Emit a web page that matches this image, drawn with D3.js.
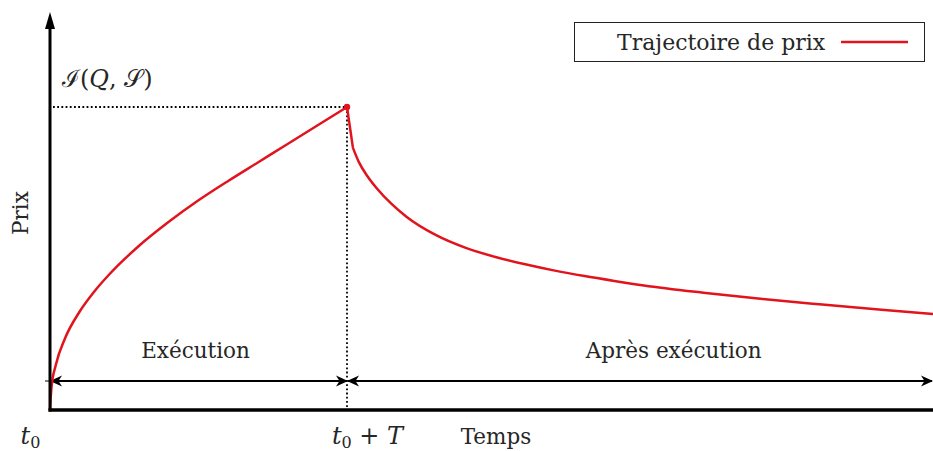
<!DOCTYPE html>
<html>
<head>
<meta charset="utf-8">
<script src="https://cdn.jsdelivr.net/npm/d3@7/dist/d3.min.js"></script>
<style>
  html, body { margin: 0; padding: 0; background: #fff; }
  svg { display: block; }
  text { font-family: "DejaVu Serif", "Liberation Serif", serif; fill: #262626; }
</style>
</head>
<body>
<svg id="chart" width="933" height="451"></svg>
<script>
// ---- data (time in units of T, price in units of peak impact) ----
const execTime  = [0, 0.005, 0.02, 0.05, 0.10, 0.15, 0.20, 0.30, 0.40, 0.50, 0.60, 0.70, 0.80, 0.90, 1.00];
const execPrice = [0, 0.075, 0.150, 0.235, 0.325, 0.392, 0.448, 0.542, 0.621, 0.692, 0.756, 0.817, 0.878, 0.939, 1.000];
const jumpTime  = [1.000, 1.020];
const jumpPrice = [1.000, 0.865];
const postTime  = [1.02, 1.04, 1.07, 1.10, 1.15, 1.20, 1.30, 1.40, 1.50, 1.60, 1.70, 1.80, 1.90, 2.00, 2.20, 2.40, 2.60, 2.80, 2.973];
const postPrice = [0.865, 0.818, 0.770, 0.732, 0.680, 0.638, 0.577, 0.535, 0.505, 0.481, 0.460, 0.442, 0.426, 0.411, 0.387, 0.366, 0.348, 0.331, 0.317];
const peak = { t: 1, p: 1 };
const tickValues = [0, 1];
const tickLabels = [["t", "0", ""], ["t", "0", " + T"]];
const phaseLabels = ["Exécution", "Après exécution"];
const phaseSpans = [[0, 1], [1, 2.973]];
const phaseLabelT = [0.49, 2.10];
const legendLabel = "Trajectoire de prix";
const impactLabel = "ℐ(𝑄, 𝒮)";
const xTitle = "Temps";
const yTitle = "Prix";

// ---- layout ----
const red = "#e1141e";
const svg = d3.select("#chart");
const x = d3.scaleLinear().domain([0, 3]).range([50, 941]);
const y = d3.scaleLinear().domain([0, 1]).range([410, 107]);

const defs = svg.append("defs");
defs.append("marker")
  .attr("id", "stealth").attr("viewBox", "-13 -6 15 12")
  .attr("refX", 0).attr("refY", 0)
  .attr("markerWidth", 15).attr("markerHeight", 12)
  .attr("markerUnits", "userSpaceOnUse")
  .attr("orient", "auto-start-reverse")
  .append("path").attr("d", "M1,0 L-11,-5.5 L-7.5,0 L-11,5.5 Z").attr("fill", "#000");

// dotted guides
svg.append("line")
  .attr("x1", x(0) + 3).attr("x2", x(peak.t)).attr("y1", y(peak.p)).attr("y2", y(peak.p))
  .attr("stroke", "#000").attr("stroke-width", 1.8).attr("stroke-dasharray", "1.8,2.4");
svg.append("line")
  .attr("x1", x(peak.t)).attr("x2", x(peak.t)).attr("y1", y(peak.p)).attr("y2", y(0))
  .attr("stroke", "#000").attr("stroke-width", 1.8).attr("stroke-dasharray", "1.8,2.4");

// phase arrows
const arrowY = 381;
phaseSpans.forEach(s => {
  svg.append("line")
    .attr("x1", x(s[0]) + 1).attr("x2", Math.min(x(s[1]), 932)).attr("y1", arrowY).attr("y2", arrowY)
    .attr("stroke", "#000").attr("stroke-width", 2.2)
    .attr("marker-start", "url(#stealth)").attr("marker-end", "url(#stealth)");
});
svg.append("line").attr("x1", 45).attr("x2", 52).attr("y1", arrowY).attr("y2", arrowY)
  .attr("stroke", "#000").attr("stroke-width", 1);

// phase labels
phaseLabels.forEach((lab, i) => {
  svg.append("text")
    .attr("x", x(phaseLabelT[i])).attr("y", 358).attr("text-anchor", "middle")
    .attr("font-size", 21.5).text(lab);
});

// price path
const lineM = d3.line().x(d => x(d[0])).y(d => y(d[1])).curve(d3.curveMonotoneX);
const lineL = d3.line().x(d => x(d[0])).y(d => y(d[1]));
const zip = (a, b) => a.map((v, i) => [v, b[i]]);
svg.append("path").datum(zip(execTime, execPrice))
  .attr("d", lineM).attr("fill", "none")
  .attr("stroke", red).attr("stroke-width", 2.5).attr("stroke-linejoin", "round");
svg.append("path").datum(zip(jumpTime, jumpPrice))
  .attr("d", lineL).attr("fill", "none")
  .attr("stroke", red).attr("stroke-width", 2.5).attr("stroke-linejoin", "round");
svg.append("path").datum(zip(postTime, postPrice))
  .attr("d", lineM).attr("fill", "none")
  .attr("stroke", red).attr("stroke-width", 2.5).attr("stroke-linejoin", "round");
svg.append("circle").attr("cx", x(peak.t)).attr("cy", y(peak.p)).attr("r", 3.2).attr("fill", red);

// axes
svg.append("line").attr("x1", 50).attr("x2", 50).attr("y1", 411.5).attr("y2", 24)
  .attr("stroke", "#000").attr("stroke-width", 3);
svg.append("path").attr("d", "M50,12 L45,29 L55,29 Z").attr("fill", "#000");
svg.append("line").attr("x1", 48.5).attr("x2", 933).attr("y1", 410).attr("y2", 410)
  .attr("stroke", "#000").attr("stroke-width", 3.5);

// tick labels via axis
const xAxis = d3.axisBottom(x).tickValues(tickValues).tickSize(0).tickFormat("");
const gx = svg.append("g").attr("transform", "translate(0,410)").call(xAxis);
gx.select(".domain").remove();
const tickOffsets = [-20, 20];
gx.selectAll(".tick").each(function (d, i) {
  const t = d3.select(this).append("text")
    .attr("x", tickOffsets[i]).attr("y", 34).attr("text-anchor", "middle")
    .attr("font-size", 24).attr("fill", "#262626");
  t.append("tspan").attr("font-style", "italic").text(tickLabels[i][0]);
  t.append("tspan").attr("font-size", 16).attr("dy", 4).text(tickLabels[i][1]);
  if (tickLabels[i][2]) {
    t.append("tspan").attr("dy", -4).text(" + ");
    t.append("tspan").attr("font-style", "italic").text("T");
  }
});

// axis titles
svg.append("text").attr("x", 496).attr("y", 444).attr("text-anchor", "middle")
  .attr("font-size", 21.5).text(xTitle);
svg.append("text").attr("transform", "translate(28,213) rotate(-90)")
  .attr("text-anchor", "middle").attr("font-size", 21.5).text(yTitle);

// impact label
svg.append("text").attr("x", 62).attr("y", 87).attr("font-size", 24).text(impactLabel);

// legend
svg.append("rect").attr("x", 574.5).attr("y", 22.5).attr("width", 350).attr("height", 39)
  .attr("fill", "#fff").attr("stroke", "#222").attr("stroke-width", 1);
svg.append("text").attr("x", 617).attr("y", 50).attr("font-size", 22).text(legendLabel);
svg.append("line").attr("x1", 841).attr("x2", 908).attr("y1", 42).attr("y2", 42)
  .attr("stroke", red).attr("stroke-width", 2.5);
</script>
</body>
</html>
